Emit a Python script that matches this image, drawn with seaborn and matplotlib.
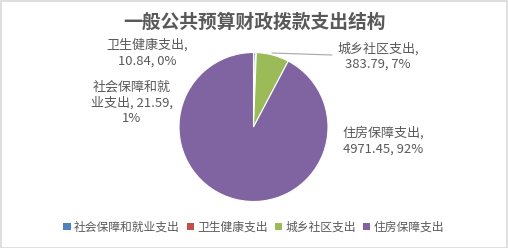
import matplotlib
matplotlib.use("Agg")
import matplotlib.pyplot as plt
import matplotlib.patches as mpatches
import seaborn as sns

categories = ["社会保障和就业支出", "卫生健康支出", "城乡社区支出", "住房保障支出"]
values = [21.59, 10.84, 383.79, 4971.45]
pct_labels = ["1%", "0%", "7%", "92%"]
title = "一般公共预算财政拨款支出结构"
colors = sns.color_palette(["#4F81BD", "#C0504D", "#9BBB59", "#8064A2"])

sns.set_style("white")
plt.rcParams["font.family"] = ["Noto Sans CJK SC", "DejaVu Sans"]

W, H = 508, 248
fig = plt.figure(figsize=(W / 100, H / 100), dpi=100)

def fx(x):
    return x / W

def fy(y):
    return 1 - y / H

cx, cy, r = 253.5, 127, 74.5
ax = fig.add_axes([fx(cx - r), fy(cy + r), 2 * r / W, 2 * r / H])
ax.pie(values, colors=colors, startangle=90, counterclock=False, radius=1,
       wedgeprops=dict(edgecolor="white", linewidth=0.8))
ax.set_xlim(-1, 1)
ax.set_ylim(-1, 1)
ax.axis("off")

tc = "#595959"
fig.text(fx(254), fy(22), title, ha="center", va="center", fontsize=13.5,
         fontweight="bold", color=tc)

fs = 9.4
lab = [
    (132, [(87, "社会保障和就"), (103, "业支出, " + f"{values[0]}" + ","), (119, pct_labels[0])]),
    (147, [(45, categories[1] + ","), (61, f"{values[1]}, {pct_labels[1]}")]),
    (378, [(49, categories[2] + ","), (64, f"{values[2]}, {pct_labels[2]}")]),
    (383, [(133, categories[3] + ","), (149, f"{values[3]}, {pct_labels[3]}")]),
]
for x, lines in lab:
    for y, t in lines:
        fig.text(fx(x), fy(y), t, ha="center", va="center", fontsize=fs, color=tc)

# leader line for 城乡社区
fig.add_artist(plt.Line2D([fx(272), fx(332)], [fy(53), fy(55)], color="#A6A6A6",
                          linewidth=0.8))

handles = [mpatches.Patch(facecolor=c, edgecolor="none") for c in colors]
fig.legend(handles, categories, loc="center", bbox_to_anchor=(fx(254), fy(227)),
           ncol=4, frameon=False, fontsize=8.5, labelcolor=tc,
           handlelength=0.6, handleheight=0.6, handletextpad=0.3,
           columnspacing=0.6)

fig.add_artist(mpatches.Rectangle((0.001, 0.002), 0.997, 0.995, transform=fig.transFigure,
                                  fill=False, edgecolor="#D9D9D9", linewidth=1.2))

fig.savefig("out.png", dpi=100)
